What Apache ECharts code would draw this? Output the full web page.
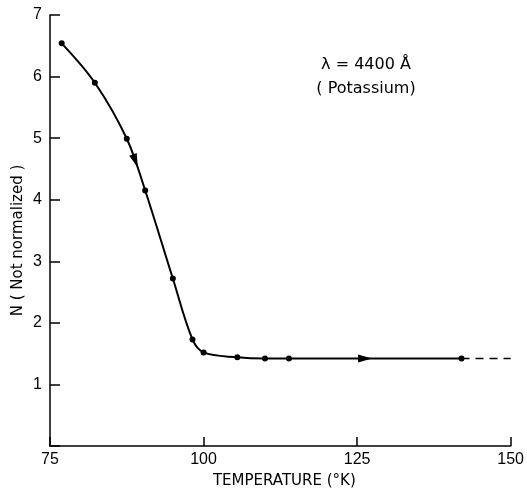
<!DOCTYPE html>
<html>
<head>
<meta charset="utf-8">
<script src="https://cdn.jsdelivr.net/npm/echarts@6/dist/echarts.min.js"></script>
<style>html,body{margin:0;padding:0;background:#fff}#c{width:527px;height:494px}</style>
</head>
<body>
<div id="c"></div>
<script>
// Measured points
var temps = [76.9, 82.3, 87.5, 90.5, 95.0, 98.2, 100.0, 105.5, 110.0, 113.9, 142.0];
var nValues = [6.54, 5.90, 4.99, 4.15, 2.72, 1.73, 1.52, 1.44, 1.42, 1.42, 1.42];
// Dashed extrapolation
var dashTemps = [142.0, 150.0];
var dashValues = [1.42, 1.42];
// Direction arrows
var arrowTemps = [88.9, 126.3];
var arrowValues = [4.63, 1.42];
var arrowRot = [200, -90];
var xTicks = [75, 100, 125, 150];
var yTicks = [1, 2, 3, 4, 5, 6, 7];

var tickFont = 'Liberation Sans';
var textFont = 'DejaVu Sans';
var chart = echarts.init(document.getElementById('c'), null, {renderer: 'canvas'});
chart.setOption({
  animation: false,
  backgroundColor: '#fff',
  grid: {left: 50, right: 8, top: 15, bottom: 47},
  xAxis: {
    type: 'value', min: 75, max: 150, interval: 25,
    name: 'TEMPERATURE (°K)', nameLocation: 'middle', nameGap: 28, nameMoveOverlap: false,
    nameTextStyle: {fontFamily: textFont, fontSize: 15, color: '#000', padding: [0, 0, 0, 8]},
    axisLine: {lineStyle: {color: '#000', width: 1.5}},
    axisTick: {inside: true, length: 9, lineStyle: {color: '#000', width: 1.5}},
    axisLabel: {fontFamily: tickFont, fontSize: 16, color: '#000', margin: 6,
      formatter: function (v) { return xTicks.indexOf(v) >= 0 ? String(v) : ''; }},
    splitLine: {show: false}
  },
  yAxis: {
    type: 'value', min: 0, max: 7, interval: 1,
    name: 'N ( Not normalized )', nameLocation: 'middle', nameGap: 24, nameMoveOverlap: false,
    nameTextStyle: {fontFamily: textFont, fontSize: 15, color: '#000', padding: [0, 20, 0, 0]},
    axisLine: {lineStyle: {color: '#000', width: 1.5}},
    axisTick: {inside: true, length: 10, lineStyle: {color: '#000', width: 1.5}},
    axisLabel: {fontFamily: tickFont, fontSize: 16, color: '#000', margin: 8,
      formatter: function (v) { return yTicks.indexOf(v) >= 0 ? String(v) : ''; }},
    splitLine: {show: false}
  },
  series: [
    {
      type: 'line', smooth: 0.35,
      data: temps.map(function (t, i) { return [t, nValues[i]]; }),
      symbol: 'circle', symbolSize: 6,
      itemStyle: {color: '#000'},
      lineStyle: {color: '#000', width: 2}
    },
    {
      type: 'line',
      data: dashTemps.map(function (t, i) { return [t, dashValues[i]]; }),
      symbol: 'none',
      lineStyle: {color: '#000', width: 1.5, type: [8, 6]}
    },
    {
      type: 'scatter',
      data: arrowTemps.map(function (t, i) {
        return {value: [t, arrowValues[i]], symbolRotate: arrowRot[i]};
      }),
      symbol: 'triangle', symbolSize: [8, 14],
      itemStyle: {color: '#000', opacity: 1}
    }
  ],
  graphic: [
    {type: 'text', x: 366, y: 65, style: {text: 'λ = 4400 Å', fontFamily: textFont, fontSize: 16, fill: '#000', align: 'center', verticalAlign: 'middle'}},
    {type: 'text', x: 366, y: 89, style: {text: '( Potassium)', fontFamily: textFont, fontSize: 16, fill: '#000', align: 'center', verticalAlign: 'middle'}}
  ]
});
</script>
</body>
</html>
